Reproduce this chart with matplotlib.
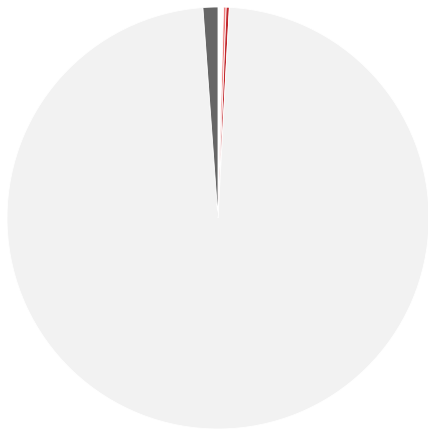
import matplotlib
matplotlib.use("Agg")
import matplotlib.pyplot as plt

labels = ["gap", "minor A", "minor B", "rest", "dark"]
values = [0.42, 0.2, 0.24, 98.0, 1.14]
colors = ["#ffffff", "#f08080", "#c0282d", "#f2f2f2", "#666666"]

fig = plt.figure(figsize=(4.28, 4.31), dpi=100)
ax = fig.add_axes([7/428, 1/431, 422/428, 422/431])
ax.pie(values, colors=colors, startangle=90, counterclock=False, radius=1,
       wedgeprops=dict(edgecolor="white", linewidth=0.6))
ax.set_xlim(-1, 1)
ax.set_ylim(-1, 1)
ax.axis("off")
fig.savefig("out.png", dpi=100)
